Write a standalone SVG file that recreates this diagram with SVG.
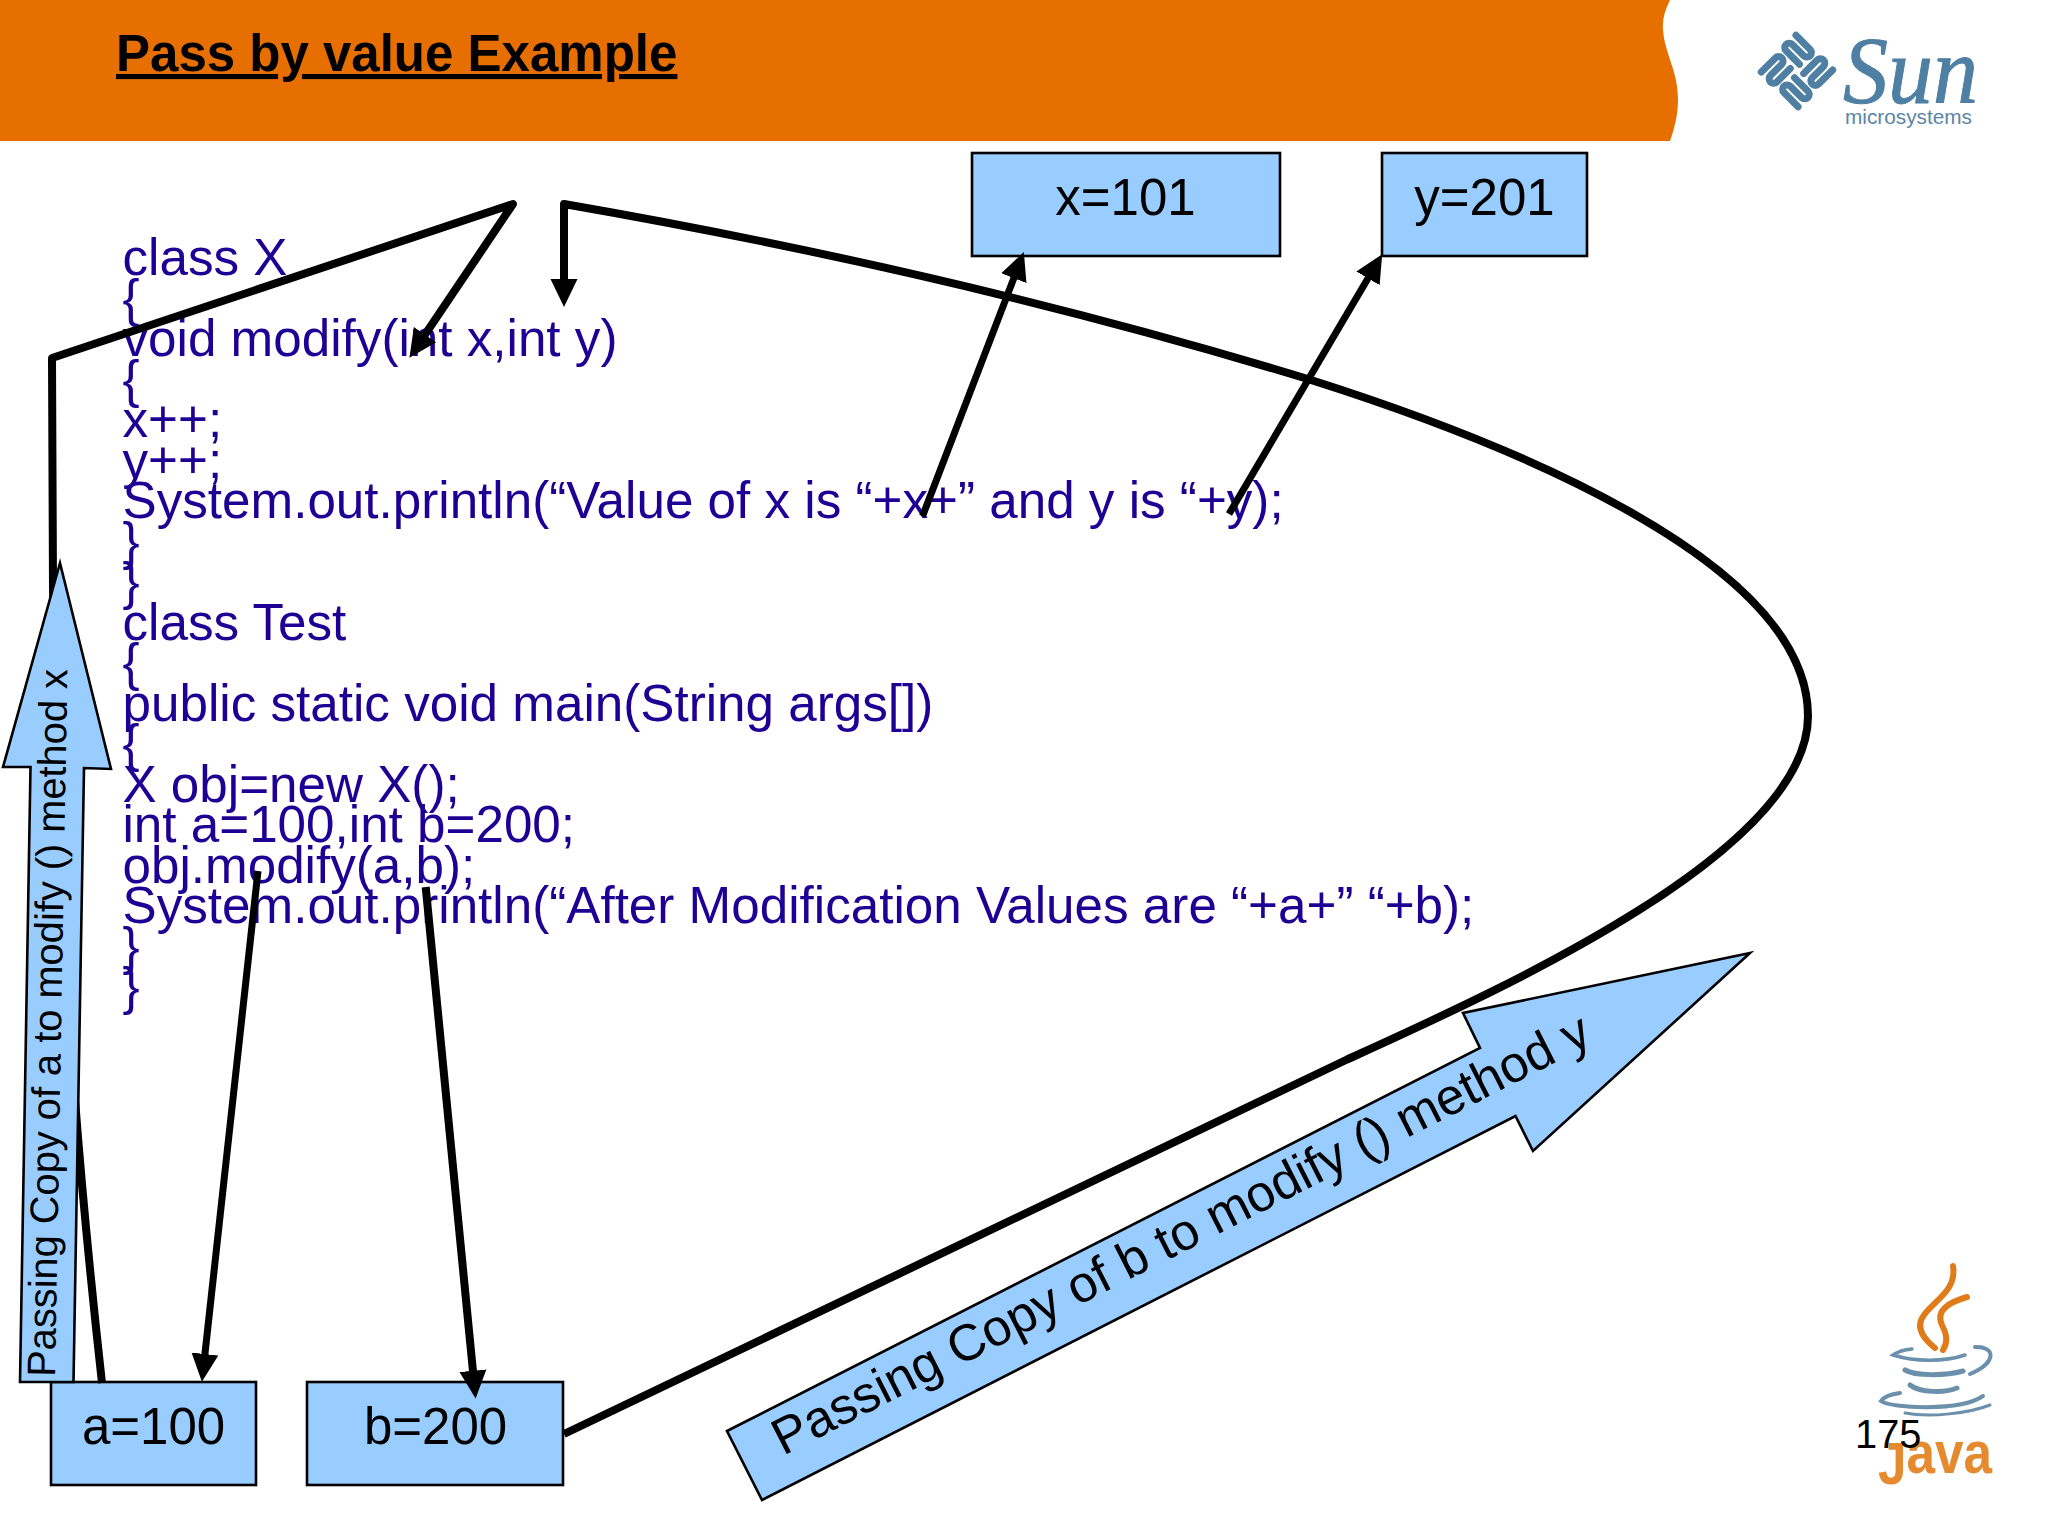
<svg xmlns="http://www.w3.org/2000/svg" xmlns:xlink="http://www.w3.org/1999/xlink" width="2048" height="1536" viewBox="0 0 2048 1536">
<style>
text{font-family:"Liberation Sans",Arial,sans-serif}
.box{fill:#99CCFF;stroke:#000;stroke-width:2.6}
.lbl{font-size:51px;fill:#000;text-anchor:middle}
.code{font-size:51.2px;fill:#1F0094}
.conn{fill:none;stroke:#000;stroke-linejoin:round}
.th{stroke-width:8}
.md{stroke-width:7}
.arr{fill:#99CCFF;stroke:#000;stroke-width:2.6;stroke-linejoin:miter}
.sun{fill:none;stroke:#4F7FA3;stroke-width:7;stroke-linecap:round}
.steam{fill:none;stroke:#E07B1A;stroke-width:6;stroke-linecap:round}
.cup{fill:none;stroke:#6B90AB;stroke-linecap:round}
</style>
<defs>
<marker id="head" markerUnits="userSpaceOnUse" markerWidth="28" markerHeight="30" viewBox="0 0 28 30" refX="3" refY="15" orient="auto"><path d="M0,1.5 L28,15 L0,28.5 Z" fill="#000"/></marker>
<path id="sunq" d="M-26,-24.5 H-6 A4.5,4.5 0 0 1 -6,-15.5 H-22 A4.5,4.5 0 0 0 -22,-6.5 H-3"/>
</defs>
<rect width="2048" height="1536" fill="#fff"/>
<g id="banner">
<path d="M0,0 H1670 C1665,10 1662,20 1663,30 C1665,55 1678,70 1678,100 C1678,115 1674,130 1670,141 H0 Z" fill="#E66F00"/>
<text x="116" y="71" font-size="51" font-weight="bold" fill="#000" text-decoration="underline">Pass by value Example</text>
</g>
<g id="sun-logo">
<g class="sun" transform="translate(1797,71) rotate(45)">
<use xlink:href="#sunq" href="#sunq"/>
<use xlink:href="#sunq" href="#sunq" transform="rotate(90)"/>
<use xlink:href="#sunq" href="#sunq" transform="rotate(180)"/>
<use xlink:href="#sunq" href="#sunq" transform="rotate(270)"/>
</g>
<text x="1843" y="103" font-size="96" font-style="italic" fill="#4F7FA3" stroke="#4F7FA3" stroke-width="1" textLength="135" lengthAdjust="spacingAndGlyphs" style="font-family:'Liberation Serif',serif">Sun</text>
<text x="1845" y="124" font-size="21" fill="#5B85A6" textLength="127" lengthAdjust="spacingAndGlyphs">microsystems</text>
</g>
<g id="java-logo">
<path class="steam" d="M1953,1266 C1957,1290 1935,1300 1924,1315 C1914,1328 1925,1340 1935,1348"/>
<path class="steam" d="M1967,1297 C1950,1302 1935,1310 1942,1325 C1947,1335 1948,1342 1943,1350"/>
<path class="cup" stroke-width="3.5" d="M1912,1349 Q1900,1350 1893,1355 C1915,1362 1945,1362 1965,1355"/>
<path class="cup" stroke-width="4" d="M1975,1347 C1995,1346 1998,1362 1970,1374"/>
<path class="cup" stroke-width="5" d="M1905,1370 C1915,1376 1945,1376 1963,1371"/>
<path class="cup" stroke-width="5" d="M1910,1385 C1920,1393 1945,1393 1957,1388"/>
<path class="cup" stroke-width="4" d="M1900,1393 Q1885,1395 1881,1401 C1890,1408 1960,1412 1983,1396"/>
<path class="cup" stroke-width="3" d="M1905,1413 C1930,1418 1970,1413 1990,1405"/>
<text x="1878" y="1473" font-size="60" font-weight="bold" fill="#E58A2E" textLength="114" lengthAdjust="spacingAndGlyphs"><tspan dy="11">J</tspan><tspan dy="-11">ava</tspan></text>
</g>
<g id="code" class="code">
<text class="code" x="122.5" y="275">class X</text>
<text class="code" x="122.5" y="315.5">{</text>
<text class="code" x="122.5" y="356">void modify(int x,int y)</text>
<text class="code" x="122.5" y="396.5">{</text>
<text class="code" x="122.5" y="437">x++;</text>
<text class="code" x="122.5" y="477.5">y++;</text>
<text class="code" x="122.5" y="518">System.out.println(“Value of x is “+x+” and y is “+y);</text>
<text class="code" x="122.5" y="558.5">}</text>
<text class="code" x="122.5" y="599">}</text>
<text class="code" x="122.5" y="639.5">class Test</text>
<text class="code" x="122.5" y="680">{</text>
<text class="code" x="122.5" y="720.5">public static void main(String args[])</text>
<text class="code" x="122.5" y="761">{</text>
<text class="code" x="122.5" y="801.5">X obj=new X();</text>
<text class="code" x="122.5" y="842">int a=100,int b=200;</text>
<text class="code" x="122.5" y="882.5">obj.modify(a,b);</text>
<text class="code" x="122.5" y="923">System.out.println(“After Modification Values are “+a+” “+b);</text>
<text class="code" x="122.5" y="963.5">}</text>
<text class="code" x="122.5" y="1004">}</text>
</g>
<g id="box-x"><rect class="box" x="972" y="153" width="308" height="103"/><text class="lbl" x="1125.5" y="215">x=101</text></g>
<g id="box-y"><rect class="box" x="1382" y="153" width="205" height="103"/><text class="lbl" x="1484.5" y="215">y=201</text></g>
<g id="box-a"><rect class="box" x="51" y="1382" width="205" height="103"/><text class="lbl" x="153.5" y="1444">a=100</text></g>
<g id="box-b"><rect class="box" x="307" y="1382" width="256" height="103"/><text class="lbl" x="435.5" y="1444">b=200</text></g>
<g id="connectors">
<path class="conn th" marker-end="url(#head)" d="M102,1383 C85,1230 62,1000 55,700 L53,588 L52,358 L513,204 L423.4,337.1"/>
<path class="conn th" marker-end="url(#head)" d="M564,1434 L1346,1060 C1500,990 1808,852 1808,716 C1808,560 1500,440 1311,380 C1050,300 800,245 564,204 L564,282"/>
<path class="conn md" marker-end="url(#head)" d="M922.6,516 L1014.9,275.4"/>
<path class="conn md" marker-end="url(#head)" d="M1229,514 L1369.5,275.7"/>
<path class="conn md" marker-end="url(#head)" d="M258,871 L204.6,1357"/>
<path class="conn th" marker-end="url(#head)" d="M425.7,887 L473.2,1373.7"/>
</g>
<g id="arrow-x">
<polygon class="arr" points="20,1382 73.5,1382 84,768 111,769 60,563 3,767 30.5,767"/>
<text x="55" y="1377" font-size="39.8" fill="#000" transform="rotate(-89 55 1377)">Passing Copy of a to modify () method x</text>
</g>
<g id="arrow-y">
<polygon class="arr" points="727,1431 1480,1048 1463,1013 1750,953 1533,1151 1515.5,1116 762,1500"/>
<text x="783" y="1456" font-size="51.2" fill="#000" transform="rotate(-27 783 1456)">Passing Copy of b to modify () method y</text>
</g>
<text id="page-number" x="1855" y="1448" font-size="39.8" fill="#000">175</text>
</svg>
